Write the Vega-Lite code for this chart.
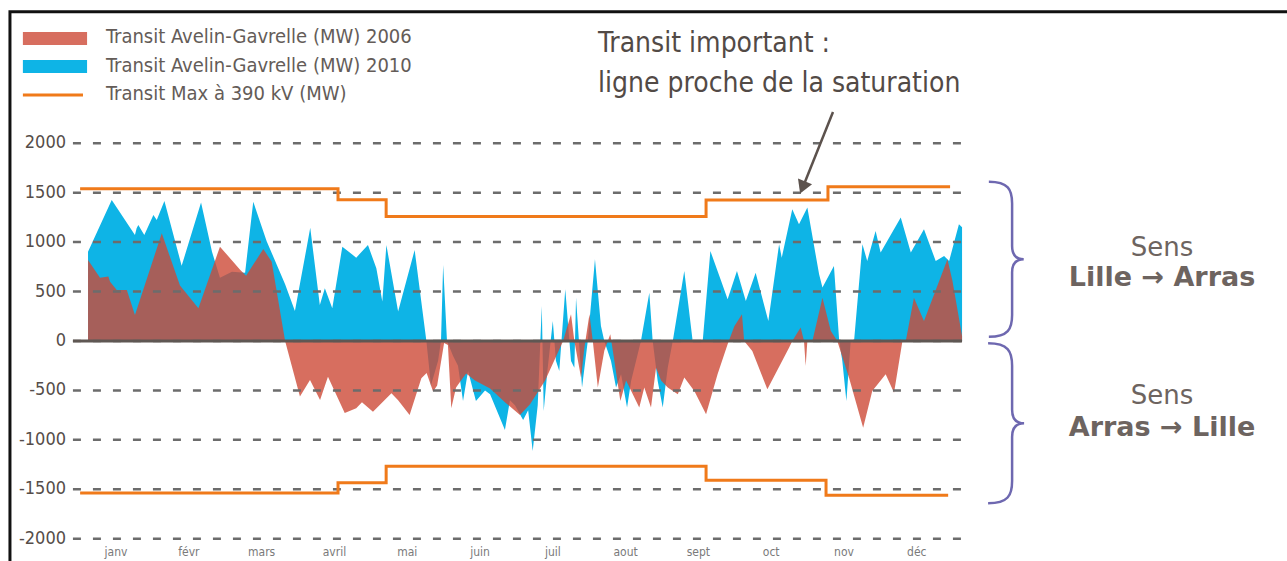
{
  "$schema": "https://vega.github.io/schema/vega-lite/v6.json",
  "width": 1278,
  "height": 549,
  "autosize": {"type": "none"},
  "padding": {"left": 9, "top": 12, "right": 0, "bottom": 0},
  "background": "white",
  "config": {"view": {"stroke": null}, "axis": {"disable": true}},
  "data": {"values": [{}]},
  "datasets": {
    "blue2010": [
      {"d":0,"v":903},{"d":9.9,"v":1426},{"d":19.6,"v":1072},{"d":20.3,"v":1140},{"d":21.0,"v":1173},{"d":23.5,"v":1072},{"d":27.3,"v":1275},{"d":28.7,"v":1224},{"d":31.9,"v":1416},{"d":39.1,"v":760},{"d":47.2,"v":1400},{"d":51.8,"v":900},{"d":55.1,"v":640},{"d":60.1,"v":700},{"d":65.6,"v":690},{"d":69.0,"v":1409},{"d":74.6,"v":1010},{"d":82.3,"v":573},{"d":86.4,"v":303},{"d":91.5,"v":971},{"d":92.8,"v":1146},{"d":96.8,"v":364},{"d":98.9,"v":533},{"d":102.0,"v":331},{"d":106.2,"v":954},{"d":112.0,"v":843},{"d":116.9,"v":971},{"d":120.4,"v":735},{"d":122.9,"v":398},{"d":124.6,"v":971},{"d":129.5,"v":297},{"d":136.4,"v":920},{"d":141.3,"v":0},{"d":143.2,"v":-450},{"d":146.2,"v":-200},{"d":147.4,"v":0},{"d":148.3,"v":769},{"d":149.9,"v":0},{"d":152.4,"v":-150},{"d":154.5,"v":-250},{"d":156.6,"v":-607},{"d":158.7,"v":-303},{"d":162.0,"v":-607},{"d":165.8,"v":-500},{"d":167.9,"v":-540},{"d":174.1,"v":-900},{"d":176.2,"v":-600},{"d":178.3,"v":-650},{"d":181.7,"v":-800},{"d":183.8,"v":-700},{"d":185.7,"v":-1113},{"d":187.8,"v":-650},{"d":189.5,"v":354},{"d":190.3,"v":-708},{"d":191.7,"v":-337},{"d":194.1,"v":202},{"d":195.4,"v":-200},{"d":196.8,"v":-303},{"d":199.3,"v":523},{"d":201.7,"v":-202},{"d":203.1,"v":-270},{"d":203.8,"v":438},{"d":206.3,"v":-472},{"d":208.7,"v":0},{"d":211.7,"v":826},{"d":214.2,"v":152},{"d":215.6,"v":0},{"d":218.4,"v":-202},{"d":220.5,"v":-472},{"d":222.6,"v":-337},{"d":225.1,"v":-674},{"d":226.8,"v":-405},{"d":230.9,"v":0},{"d":234.4,"v":489},{"d":235.8,"v":0},{"d":237.9,"v":-405},{"d":240.0,"v":-674},{"d":242.1,"v":-270},{"d":244.2,"v":0},{"d":249.0,"v":708},{"d":252.5,"v":0},{"d":256.7,"v":0},{"d":259.9,"v":910},{"d":264.4,"v":607},{"d":267.1,"v":421},{"d":271.0,"v":708},{"d":274.7,"v":405},{"d":278.8,"v":691},{"d":284.1,"v":202},{"d":288.6,"v":978},{"d":289.7,"v":843},{"d":294.1,"v":1332},{"d":296.9,"v":1180},{"d":300.4,"v":1349},{"d":305.3,"v":674},{"d":306.7,"v":540},{"d":311.5,"v":759},{"d":313.7,"v":0},{"d":315.0,"v":-202},{"d":316.7,"v":-607},{"d":318.5,"v":0},{"d":319.9,"v":0},{"d":323.4,"v":978},{"d":325.4,"v":809},{"d":328.9,"v":1113},{"d":331.0,"v":894},{"d":339.4,"v":1248},{"d":343.6,"v":894},{"d":349.1,"v":1130},{"d":354.0,"v":809},{"d":357.5,"v":860},{"d":359.6,"v":809},{"d":363.7,"v":1180},{"d":365.0,"v":1150}
    ],
    "red2006": [
      {"d":0,"v":819},{"d":5.0,"v":640},{"d":8.5,"v":651},{"d":9.2,"v":600},{"d":12.0,"v":516},{"d":16.2,"v":516},{"d":19.6,"v":263},{"d":30.8,"v":1089},{"d":38.4,"v":560},{"d":46.1,"v":331},{"d":55.1,"v":954},{"d":58.5,"v":860},{"d":63.5,"v":720},{"d":66.0,"v":660},{"d":73.2,"v":930},{"d":76.7,"v":802},{"d":82.3,"v":0},{"d":88.5,"v":-563},{"d":92.7,"v":-394},{"d":96.9,"v":-597},{"d":100.2,"v":-361},{"d":107.2,"v":-730},{"d":112.0,"v":-681},{"d":114.4,"v":-620},{"d":119.0,"v":-715},{"d":126.7,"v":-529},{"d":129.5,"v":-600},{"d":134.3,"v":-749},{"d":139.2,"v":-378},{"d":141.4,"v":-324},{"d":144.1,"v":-510},{"d":145.8,"v":-450},{"d":148.7,"v":-20},{"d":150.3,"v":-40},{"d":151.7,"v":-681},{"d":153.7,"v":-470},{"d":155.4,"v":-412},{"d":157.9,"v":-330},{"d":161.6,"v":-400},{"d":167.9,"v":-480},{"d":174.1,"v":-620},{"d":180.4,"v":-749},{"d":184.6,"v":-640},{"d":190.9,"v":-400},{"d":198.4,"v":0},{"d":199.6,"v":100},{"d":201.7,"v":270},{"d":203.1,"v":0},{"d":205.9,"v":-371},{"d":207.3,"v":-67},{"d":209.4,"v":270},{"d":210.8,"v":0},{"d":212.9,"v":-472},{"d":215.6,"v":-100},{"d":218.1,"v":67},{"d":219.8,"v":-200},{"d":222.3,"v":-607},{"d":224.7,"v":-400},{"d":227.5,"v":-540},{"d":230.2,"v":-674},{"d":232.3,"v":-470},{"d":235.1,"v":-674},{"d":237.2,"v":-270},{"d":239.3,"v":-400},{"d":242.1,"v":-472},{"d":246.3,"v":-540},{"d":249.0,"v":-370},{"d":253.2,"v":-506},{"d":258.1,"v":-742},{"d":262.9,"v":-337},{"d":267.1,"v":-34},{"d":269.9,"v":150},{"d":273.1,"v":270},{"d":274.0,"v":0},{"d":277.4,"v":-101},{"d":283.7,"v":-489},{"d":292.8,"v":-67},{"d":294.1,"v":0},{"d":297.6,"v":135},{"d":299.0,"v":0},{"d":299.7,"v":-253},{"d":300.4,"v":0},{"d":302.5,"v":0},{"d":306.7,"v":438},{"d":310.2,"v":101},{"d":312.9,"v":0},{"d":317.8,"v":-371},{"d":323.7,"v":-877},{"d":327.5,"v":-506},{"d":333.1,"v":-337},{"d":336.6,"v":-523},{"d":340.1,"v":0},{"d":341.5,"v":0},{"d":344.9,"v":438},{"d":349.1,"v":202},{"d":358.9,"v":826},{"d":361.0,"v":607},{"d":365.0,"v":50}
    ],
    "maxline": [
      {"d":-3.3,"v":1540,"side":"top"},{"d":104.4,"v":1428,"side":"top"},{"d":124.5,"v":1260,"side":"top"},{"d":258.1,"v":1425,"side":"top"},{"d":309.0,"v":1560,"side":"top"},{"d":360.0,"v":1560,"side":"top"},
      {"d":-3.3,"v":-1538,"side":"bottom"},{"d":104.4,"v":-1435,"side":"bottom"},{"d":124.5,"v":-1268,"side":"bottom"},{"d":258.1,"v":-1410,"side":"bottom"},{"d":308.2,"v":-1560,"side":"bottom"},{"d":359.2,"v":-1560,"side":"bottom"}
    ],
    "ticks": [
      {"v":2000,"label":"2000"},{"v":1500,"label":"1500"},{"v":1000,"label":"1000"},{"v":500,"label":"500"},{"v":0,"label":"0"},{"v":-500,"label":"-500"},{"v":-1000,"label":"-1000"},{"v":-1500,"label":"-1500"},{"v":-2000,"label":"-2000"}
    ],
    "months": [
      {"d":11.7,"label":"janv"},{"d":42.1,"label":"févr"},{"d":72.5,"label":"mars"},{"d":102.9,"label":"avril"},{"d":133.3,"label":"mai"},{"d":163.7,"label":"juin"},{"d":194.1,"label":"juil"},{"d":224.5,"label":"aout"},{"d":254.9,"label":"sept"},{"d":285.3,"label":"oct"},{"d":315.7,"label":"nov"},{"d":346.1,"label":"déc"}
    ]
  },
  "layer": [
    {
      "mark": {"type": "rect", "fill": "white", "fillOpacity": 0, "stroke": "#111111", "strokeWidth": 3, "clip": false},
      "encoding": {
        "x": {"datum": -32.6, "type": "quantitative", "scale": {"domain": [-33, 500.7], "nice": false, "zero": false}, "axis": null},
        "x2": {"datum": 700},
        "y": {"datum": 3331, "type": "quantitative", "scale": {"domain": [-2226, 3328], "nice": false, "zero": false}, "axis": null},
        "y2": {"datum": -4000}
      }
    },
    {
      "data": {"name": "blue2010"},
      "mark": {"type": "area", "color": "#0eb4e6", "opacity": 1},
      "encoding": {
        "x": {"field": "d", "type": "quantitative", "scale": {"domain": [-33, 500.7], "nice": false, "zero": false}, "axis": null},
        "y": {"field": "v", "type": "quantitative", "scale": {"domain": [-2226, 3328], "nice": false, "zero": false}, "axis": null},
        "y2": {"datum": 0}
      }
    },
    {
      "data": {"name": "red2006"},
      "mark": {"type": "area", "color": "#cd4a37", "fillOpacity": 0.8},
      "encoding": {
        "x": {"field": "d", "type": "quantitative", "scale": {"domain": [-33, 500.7], "nice": false, "zero": false}, "axis": null},
        "y": {"field": "v", "type": "quantitative", "scale": {"domain": [-2226, 3328], "nice": false, "zero": false}, "axis": null},
        "y2": {"datum": 0}
      }
    },
    {
      "data": {"name": "ticks"},
      "mark": {"type": "rule", "color": "#6c6c6c", "strokeWidth": 2.5, "strokeDash": [8, 12]},
      "encoding": {
        "x": {"datum": -6.3, "type": "quantitative", "scale": {"domain": [-33, 500.7], "nice": false, "zero": false}, "axis": null},
        "x2": {"datum": 365.4},
        "y": {"field": "v", "type": "quantitative", "scale": {"domain": [-2226, 3328], "nice": false, "zero": false}, "axis": null}
      }
    },
    {
      "mark": {"type": "rule", "color": "#5f5753", "strokeWidth": 3},
      "encoding": {
        "x": {"datum": -6.3, "type": "quantitative", "scale": {"domain": [-33, 500.7], "nice": false, "zero": false}, "axis": null},
        "x2": {"datum": 365},
        "y": {"datum": 0, "type": "quantitative", "scale": {"domain": [-2226, 3328], "nice": false, "zero": false}, "axis": null}
      }
    },
    {
      "data": {"name": "maxline"},
      "mark": {"type": "line", "interpolate": "step-after", "color": "#f07a1a", "strokeWidth": 3},
      "encoding": {
        "x": {"field": "d", "type": "quantitative", "scale": {"domain": [-33, 500.7], "nice": false, "zero": false}, "axis": null},
        "y": {"field": "v", "type": "quantitative", "scale": {"domain": [-2226, 3328], "nice": false, "zero": false}, "axis": null},
        "detail": {"field": "side", "type": "nominal"}
      }
    },
    {
      "data": {"name": "ticks"},
      "mark": {"type": "text", "align": "right", "baseline": "middle", "font": "DejaVu Sans Condensed", "fontSize": 18, "color": "#554d49"},
      "encoding": {
        "x": {"datum": -9.2, "type": "quantitative", "scale": {"domain": [-33, 500.7], "nice": false, "zero": false}, "axis": null},
        "y": {"field": "v", "type": "quantitative", "scale": {"domain": [-2226, 3328], "nice": false, "zero": false}, "axis": null},
        "text": {"field": "label"}
      }
    },
    {
      "data": {"name": "months"},
      "mark": {"type": "text", "align": "center", "baseline": "bottom", "font": "DejaVu Sans Condensed", "fontSize": 12, "color": "#7a7a7a"},
      "encoding": {
        "x": {"field": "d", "type": "quantitative", "scale": {"domain": [-33, 500.7], "nice": false, "zero": false}, "axis": null},
        "y": {"datum": -2205, "type": "quantitative", "scale": {"domain": [-2226, 3328], "nice": false, "zero": false}, "axis": null},
        "text": {"field": "label"}
      }
    },
    {
      "mark": {"type": "rect", "color": "#cd4a37", "fillOpacity": 0.8},
      "encoding": {
        "x": {"datum": -27.2, "type": "quantitative", "scale": {"domain": [-33, 500.7], "nice": false, "zero": false}, "axis": null},
        "x2": {"datum": -0.4},
        "y": {"datum": 3126, "type": "quantitative", "scale": {"domain": [-2226, 3328], "nice": false, "zero": false}, "axis": null},
        "y2": {"datum": 2994}
      }
    },
    {
      "mark": {"type": "rect", "color": "#0eb4e6"},
      "encoding": {
        "x": {"datum": -27.2, "type": "quantitative", "scale": {"domain": [-33, 500.7], "nice": false, "zero": false}, "axis": null},
        "x2": {"datum": -0.4},
        "y": {"datum": 2843, "type": "quantitative", "scale": {"domain": [-2226, 3328], "nice": false, "zero": false}, "axis": null},
        "y2": {"datum": 2711}
      }
    },
    {
      "mark": {"type": "rule", "color": "#f07a1a", "strokeWidth": 3},
      "encoding": {
        "x": {"datum": -27.2, "type": "quantitative", "scale": {"domain": [-33, 500.7], "nice": false, "zero": false}, "axis": null},
        "x2": {"datum": -2.1},
        "y": {"datum": 2489, "type": "quantitative", "scale": {"domain": [-2226, 3328], "nice": false, "zero": false}, "axis": null}
      }
    },
    {
      "mark": {"type": "text", "text": "Transit Avelin-Gavrelle (MW) 2006", "align": "left", "baseline": "alphabetic", "font": "DejaVu Sans Condensed", "fontSize": 20, "color": "#645c58"},
      "encoding": {
        "x": {"datum": 7.5, "type": "quantitative", "scale": {"domain": [-33, 500.7], "nice": false, "zero": false}, "axis": null},
        "y": {"datum": 3010, "type": "quantitative", "scale": {"domain": [-2226, 3328], "nice": false, "zero": false}, "axis": null}
      }
    },
    {
      "mark": {"type": "text", "text": "Transit Avelin-Gavrelle (MW) 2010", "align": "left", "baseline": "alphabetic", "font": "DejaVu Sans Condensed", "fontSize": 20, "color": "#645c58"},
      "encoding": {
        "x": {"datum": 7.5, "type": "quantitative", "scale": {"domain": [-33, 500.7], "nice": false, "zero": false}, "axis": null},
        "y": {"datum": 2721, "type": "quantitative", "scale": {"domain": [-2226, 3328], "nice": false, "zero": false}, "axis": null}
      }
    },
    {
      "mark": {"type": "text", "text": "Transit Max à 390 kV (MW)", "align": "left", "baseline": "alphabetic", "font": "DejaVu Sans Condensed", "fontSize": 20, "color": "#645c58"},
      "encoding": {
        "x": {"datum": 7.5, "type": "quantitative", "scale": {"domain": [-33, 500.7], "nice": false, "zero": false}, "axis": null},
        "y": {"datum": 2433, "type": "quantitative", "scale": {"domain": [-2226, 3328], "nice": false, "zero": false}, "axis": null}
      }
    },
    {
      "mark": {"type": "text", "text": "Transit important :", "align": "left", "baseline": "alphabetic", "font": "DejaVu Sans Condensed", "fontSize": 28, "color": "#524a46"},
      "encoding": {
        "x": {"datum": 213.0, "type": "quantitative", "scale": {"domain": [-33, 500.7], "nice": false, "zero": false}, "axis": null},
        "y": {"datum": 2924, "type": "quantitative", "scale": {"domain": [-2226, 3328], "nice": false, "zero": false}, "axis": null}
      }
    },
    {
      "mark": {"type": "text", "text": "ligne proche de la saturation", "align": "left", "baseline": "alphabetic", "font": "DejaVu Sans Condensed", "fontSize": 28, "color": "#524a46"},
      "encoding": {
        "x": {"datum": 213.0, "type": "quantitative", "scale": {"domain": [-33, 500.7], "nice": false, "zero": false}, "axis": null},
        "y": {"datum": 2519, "type": "quantitative", "scale": {"domain": [-2226, 3328], "nice": false, "zero": false}, "axis": null}
      }
    },
    {
      "mark": {"type": "rule", "color": "#5c524d", "strokeWidth": 2.5},
      "encoding": {
        "x": {"datum": 311.1, "type": "quantitative", "scale": {"domain": [-33, 500.7], "nice": false, "zero": false}, "axis": null},
        "x2": {"datum": 298.6},
        "y": {"datum": 2317, "type": "quantitative", "scale": {"domain": [-2226, 3328], "nice": false, "zero": false}, "axis": null},
        "y2": {"datum": 1560}
      }
    },
    {
      "mark": {"type": "point", "shape": "triangle-down", "filled": true, "color": "#5c524d", "opacity": 1, "size": 230, "angle": 22},
      "encoding": {
        "x": {"datum": 298.4, "type": "quantitative", "scale": {"domain": [-33, 500.7], "nice": false, "zero": false}, "axis": null},
        "y": {"datum": 1553, "type": "quantitative", "scale": {"domain": [-2226, 3328], "nice": false, "zero": false}, "axis": null}
      }
    },
    {
      "mark": {"type": "point", "shape": "M -0.3 -1 C -0.05 -1 0 -0.9 0 -0.72 L 0 -0.17 C 0 -0.06 0.05 0 0.15 0 C 0.05 0 0 0.06 0 0.17 L 0 0.72 C 0 0.9 -0.05 1 -0.3 1", "filled": false, "stroke": "#6e68b0", "strokeWidth": 2.5, "opacity": 1, "size": 24025},
      "encoding": {
        "x": {"datum": 385.9, "type": "quantitative", "scale": {"domain": [-33, 500.7], "nice": false, "zero": false}, "axis": null},
        "y": {"datum": 827, "type": "quantitative", "scale": {"domain": [-2226, 3328], "nice": false, "zero": false}, "axis": null}
      }
    },
    {
      "mark": {"type": "point", "shape": "M -0.3 -1 C -0.05 -1 0 -0.9 0 -0.72 L 0 -0.17 C 0 -0.06 0.05 0 0.15 0 C 0.05 0 0 0.06 0 0.17 L 0 0.72 C 0 0.9 -0.05 1 -0.3 1", "filled": false, "stroke": "#6e68b0", "strokeWidth": 2.5, "opacity": 1, "size": 25600},
      "encoding": {
        "x": {"datum": 385.9, "type": "quantitative", "scale": {"domain": [-33, 500.7], "nice": false, "zero": false}, "axis": null},
        "y": {"datum": -833, "type": "quantitative", "scale": {"domain": [-2226, 3328], "nice": false, "zero": false}, "axis": null}
      }
    },
    {
      "mark": {"type": "text", "text": "Sens", "align": "center", "baseline": "alphabetic", "font": "DejaVu Sans", "fontSize": 26, "color": "#6d6460"},
      "encoding": {
        "x": {"datum": 448.5, "type": "quantitative", "scale": {"domain": [-33, 500.7], "nice": false, "zero": false}, "axis": null},
        "y": {"datum": 855, "type": "quantitative", "scale": {"domain": [-2226, 3328], "nice": false, "zero": false}, "axis": null}
      }
    },
    {
      "mark": {"type": "text", "text": "Lille → Arras", "align": "center", "baseline": "alphabetic", "font": "DejaVu Sans", "fontWeight": "bold", "fontSize": 27, "color": "#6d6460"},
      "encoding": {
        "x": {"datum": 448.5, "type": "quantitative", "scale": {"domain": [-33, 500.7], "nice": false, "zero": false}, "axis": null},
        "y": {"datum": 556, "type": "quantitative", "scale": {"domain": [-2226, 3328], "nice": false, "zero": false}, "axis": null}
      }
    },
    {
      "mark": {"type": "text", "text": "Sens", "align": "center", "baseline": "alphabetic", "font": "DejaVu Sans", "fontSize": 26, "color": "#6d6460"},
      "encoding": {
        "x": {"datum": 448.5, "type": "quantitative", "scale": {"domain": [-33, 500.7], "nice": false, "zero": false}, "axis": null},
        "y": {"datum": -642, "type": "quantitative", "scale": {"domain": [-2226, 3328], "nice": false, "zero": false}, "axis": null}
      }
    },
    {
      "mark": {"type": "text", "text": "Arras → Lille", "align": "center", "baseline": "alphabetic", "font": "DejaVu Sans", "fontWeight": "bold", "fontSize": 27, "color": "#6d6460"},
      "encoding": {
        "x": {"datum": 448.5, "type": "quantitative", "scale": {"domain": [-33, 500.7], "nice": false, "zero": false}, "axis": null},
        "y": {"datum": -961, "type": "quantitative", "scale": {"domain": [-2226, 3328], "nice": false, "zero": false}, "axis": null}
      }
    }
  ]
}
